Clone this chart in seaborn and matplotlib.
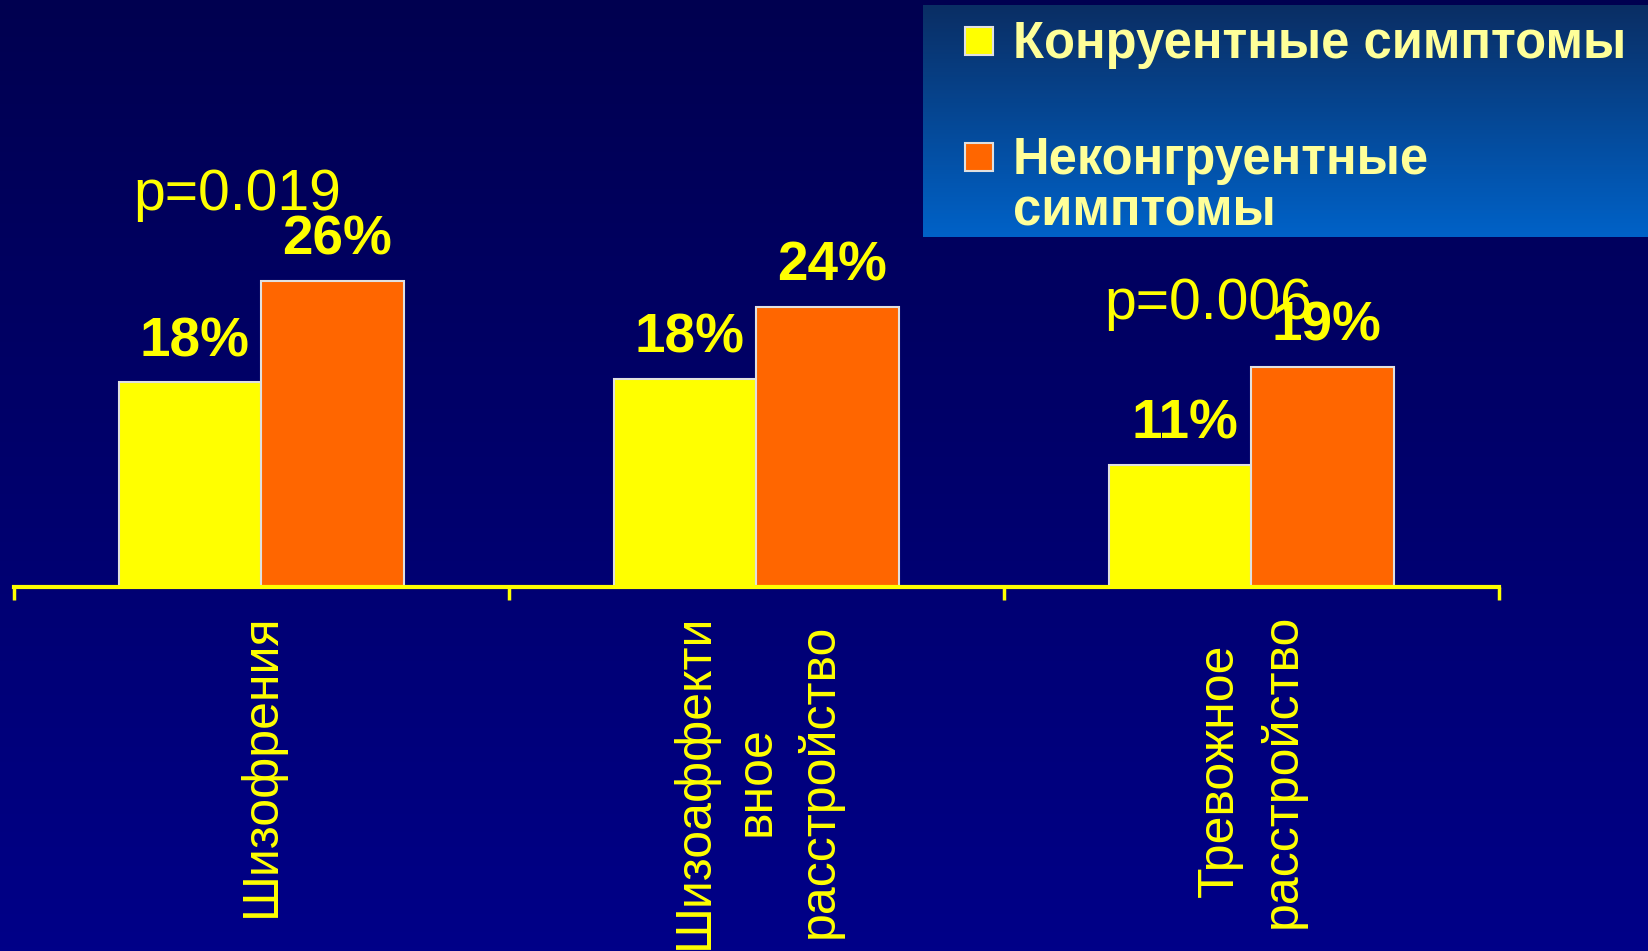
import numpy as np
import pandas as pd
import matplotlib
matplotlib.use("Agg")
import matplotlib.pyplot as plt
from matplotlib.colors import LinearSegmentedColormap
import seaborn as sns

# ---- data ----
categories = ["Шизофрения", "Шизоаффекти\nвное\nрасстройство", "Тревожное\nрасстройство"]
series = ["Конруентные симптомы", "Неконгруентные симптомы"]
congruent = [17.4, 17.7, 10.4]
incongruent = [26.0, 23.8, 18.7]
congruent_labels = ["18%", "18%", "11%"]
incongruent_labels = ["26%", "24%", "19%"]
p_texts = ["p=0.019", "p=0.006"]
p_pos = [(-0.258, 32.0), (1.702, 22.8)]

YELLOW = "#FFFF00"
ORANGE = "#FF6600"
PALE = "#FFFF99"

df = pd.DataFrame({
    "cat": categories * 2,
    "series": [series[0]] * 3 + [series[1]] * 3,
    "value": congruent + incongruent,
})

W, H = 1649, 951
fig = plt.figure(figsize=(W / 100, H / 100), dpi=100)

# background gradient
bg = fig.add_axes([0, 0, 1, 1], zorder=-10)
bg.set_xlim(0, 1)
bg.set_ylim(0, 1)
bg.axis("off")
grad = np.linspace(0, 1, 256).reshape(-1, 1)
cmap_bg = LinearSegmentedColormap.from_list("bg", ["#000088", "#000050"])
bg.imshow(grad, extent=[0, 1, 0, 1], aspect="auto", cmap=cmap_bg, origin="lower")
# legend panel gradient
lx0, lx1 = 923 / W, 1.0
ly0, ly1 = 1 - 237 / H, 1 - 5 / H
cmap_lg = LinearSegmentedColormap.from_list("lg", ["#0062C8", "#0A2E64"])
bg.imshow(grad, extent=[lx0, lx1, ly0, ly1], aspect="auto", cmap=cmap_lg, origin="lower")

# main axes
ax_left = 14 / W
ax_w = (1499 - 14) / W
ax_bottom = (H - 587) / H
ax_h = 471 / H
ax = fig.add_axes([ax_left, ax_bottom, ax_w, ax_h])
ax.set_facecolor("none")

sns.barplot(data=df, x="cat", y="value", hue="series",
            palette={series[0]: YELLOW, series[1]: ORANGE},
            width=0.574, gap=0, edgecolor="#E0E0E0", linewidth=1.5,
            legend=False, ax=ax, saturation=1)

ax.set_xlim(-0.5, 2.5)
ax.set_ylim(0, 40)
for s in ["top", "right", "left"]:
    ax.spines[s].set_visible(False)
ax.spines["bottom"].set_color(YELLOW)
ax.spines["bottom"].set_linewidth(3)
ax.set_yticks([])
ax.set_xlabel("")
ax.set_ylabel("")

ax.set_xticks([0, 1, 2])
ax.set_xticklabels(categories, rotation=90, fontsize=36, color=YELLOW,
                   family="Liberation Sans", ha="center", va="top",
                   multialignment="center")
for t in ax.get_xticklabels():
    t.set_linespacing(1.44)
ax.set_xticks([-0.5, 0.5, 1.5, 2.5], minor=True)
ax.tick_params(axis="x", which="major", length=0, pad=19)
ax.tick_params(axis="x", which="minor", length=9, width=2.5, color=YELLOW, direction="out")

# value labels
for cont, labs in zip(ax.containers, [congruent_labels, incongruent_labels]):
    for bar, lab in zip(cont, labs):
        ax.annotate(lab, (bar.get_x() + bar.get_width() / 2, bar.get_height()),
                    xytext=(3, 18.7), textcoords="offset points",
                    ha="center", va="baseline", fontsize=39.5, fontweight="bold",
                    color=YELLOW, family="Liberation Sans")

# p-values
for txt, (px, py) in zip(p_texts, p_pos):
    ax.text(px, py, txt, ha="left", va="baseline", fontsize=41, color=YELLOW,
            family="Liberation Sans")

# legend (manual)
sq = 28 / W, 28 / H
fig.patches.append(plt.Rectangle((965 / W, 1 - 55 / H), sq[0], sq[1], transform=fig.transFigure,
                                 facecolor=YELLOW, edgecolor="#E0E0E0", linewidth=1.5))
fig.patches.append(plt.Rectangle((965 / W, 1 - 171 / H), sq[0], sq[1], transform=fig.transFigure,
                                 facecolor=ORANGE, edgecolor="#E0E0E0", linewidth=1.5))
for txt, yb in zip(["Конруентные симптомы", "Неконгруентные", "симптомы"], [58, 174, 226]):
    fig.text(1013 / W, 1 - yb / H, txt, fontsize=36.5, fontweight="bold",
             color=PALE, family="Liberation Sans", va="baseline", ha="left")

fig.savefig("out.png", dpi=100)
